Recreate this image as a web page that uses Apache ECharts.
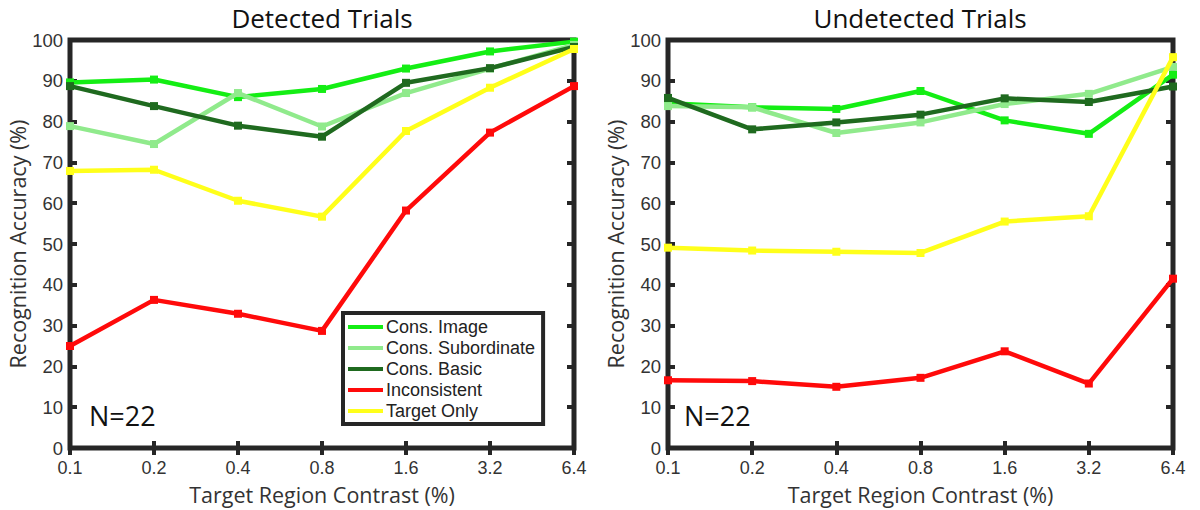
<!DOCTYPE html>
<html>
<head>
<meta charset="utf-8">
<title>Recognition Accuracy by Target Region Contrast</title>
<script src="https://cdn.jsdelivr.net/npm/echarts@6/dist/echarts.min.js"></script>
<style>
  html, body { margin: 0; padding: 0; background: #fff; }
  #chart { width: 1200px; height: 510px; }
</style>
</head>
<body>
<div id="chart"></div>
<script>
// Contrast levels (x axis categories)
const contrast = ['0.1', '0.2', '0.4', '0.8', '1.6', '3.2', '6.4'];
const yTicks = [0, 10, 20, 30, 40, 50, 60, 70, 80, 90, 100];

// Detected trials, recognition accuracy (%)
const detConsImage    = [89.6, 90.3, 86.0, 88.0, 93.0, 97.2, 99.6];
const detConsSub      = [78.9, 74.5, 87.0, 78.8, 87.0, 93.0, 98.8];
const detConsBasic    = [88.7, 83.8, 79.0, 76.3, 89.5, 93.1, 98.3];
const detInconsistent = [25.0, 36.3, 32.9, 28.7, 58.2, 77.3, 88.7];
const detTargetOnly   = [67.9, 68.2, 60.6, 56.7, 77.7, 88.3, 97.8];

// Undetected trials, recognition accuracy (%)
const undConsImage    = [84.5, 83.5, 83.1, 87.5, 80.3, 77.0, 91.5];
const undConsSub      = [83.8, 83.5, 77.2, 79.8, 84.3, 86.8, 93.4];
const undConsBasic    = [85.8, 78.1, 79.8, 81.7, 85.7, 84.8, 88.6];
const undInconsistent = [16.6, 16.4, 15.0, 17.2, 23.7, 15.8, 41.5];
const undTargetOnly   = [49.1, 48.4, 48.1, 47.8, 55.5, 56.8, 95.8];

const seriesNames = ['Cons. Image', 'Cons. Subordinate', 'Cons. Basic', 'Inconsistent', 'Target Only'];
const seriesColors = ['#14ee14', '#90ea8c', '#1f6a1f', '#ff0a0a', '#ffff1a'];
const panelTitles = ['Detected Trials', 'Undetected Trials'];
const sampleSize = 'N=22';

const FONT = '"Open Sans", "Noto Sans", sans-serif';
const COMPACT_FONT = '"Liberation Sans", Arial, sans-serif';
const FRAME = '#262626';
const TEXT = '#333';

const panels = [
  { left: 70, right: 626, data: [detConsImage, detConsSub, detConsBasic, detInconsistent, detTargetOnly] },
  { left: 668, right: 27, data: [undConsImage, undConsSub, undConsBasic, undInconsistent, undTargetOnly] }
];
const GRID_TOP = 40, GRID_BOTTOM = 57;

const grids = [], xAxes = [], yAxes = [], series = [];

panels.forEach((p, i) => {
  grids.push({
    left: p.left, right: p.right, top: GRID_TOP, bottom: GRID_BOTTOM,
    show: true, borderWidth: 5, borderColor: FRAME, backgroundColor: 'transparent'
  });
  // bottom x axis with labels
  xAxes.push({
    gridIndex: i, type: 'category', data: contrast, boundaryGap: false, position: 'bottom',
    axisLine: { show: false },
    axisTick: { show: true, inside: true, length: 7, lineStyle: { color: FRAME, width: 4 } },
    axisLabel: { color: TEXT, fontFamily: COMPACT_FONT, fontSize: 18, margin: 11 },
    name: 'Target Region Contrast (%)', nameLocation: 'middle', nameGap: 35,
    nameTextStyle: { color: TEXT, fontFamily: FONT, fontSize: 21.5 },
    splitLine: { show: false }
  });
  // top x axis: ticks only
  xAxes.push({
    gridIndex: i, type: 'category', data: contrast, boundaryGap: false, position: 'top',
    axisLine: { show: false },
    axisTick: { show: true, inside: true, length: 7, lineStyle: { color: FRAME, width: 4 } },
    axisLabel: { show: false }, splitLine: { show: false }
  });
  // left y axis with labels
  yAxes.push({
    gridIndex: i, type: 'value', min: yTicks[0], max: yTicks[yTicks.length - 1], interval: 10,
    position: 'left',
    axisLine: { show: false },
    axisTick: { show: true, inside: true, length: 7, lineStyle: { color: FRAME, width: 4 } },
    axisLabel: { color: TEXT, fontFamily: COMPACT_FONT, fontSize: 18.5, margin: 7 },
    name: 'Recognition Accuracy (%)', nameLocation: 'middle', nameGap: 40, nameRotate: 90,
    nameTextStyle: { color: TEXT, fontFamily: FONT, fontSize: 21.5 },
    splitLine: { show: false }
  });
  // right y axis: ticks only
  yAxes.push({
    gridIndex: i, type: 'value', min: yTicks[0], max: yTicks[yTicks.length - 1], interval: 10,
    position: 'right',
    axisLine: { show: false },
    axisTick: { show: true, inside: true, length: 7, lineStyle: { color: FRAME, width: 4 } },
    axisLabel: { show: false }, splitLine: { show: false }
  });

  p.data.forEach((vals, k) => {
    series.push({
      name: seriesNames[k], type: 'line',
      xAxisIndex: i * 2, yAxisIndex: i * 2,
      data: vals,
      symbol: 'rect', symbolSize: 8, showSymbol: true,
      clip: false,
      lineStyle: { color: seriesColors[k], width: 4.5 },
      itemStyle: { color: seriesColors[k] },
      emphasis: { disabled: true },
      z: 3 + k
    });
  });
});

const option = {
  animation: false,
  backgroundColor: '#fff',
  textStyle: { fontFamily: FONT },
  grid: grids,
  xAxis: xAxes,
  yAxis: yAxes,
  legend: {
    data: seriesNames,
    orient: 'vertical',
    left: 343, top: 313,
    icon: 'rect', itemWidth: 35, itemHeight: 4, itemGap: 3,
    padding: [5, 8, 4, 5],
    backgroundColor: '#fff',
    borderColor: FRAME, borderWidth: 4, borderRadius: 0,
    textStyle: { color: '#222', fontFamily: COMPACT_FONT, fontSize: 18, lineHeight: 18, padding: [0, 0, 0, -2] },
    selectedMode: false,
    z: 10
  },
  graphic: [
    { type: 'text', x: 322, y: 5, style: { text: panelTitles[0], font: '26px ' + FONT, fill: '#111', textAlign: 'center', textVerticalAlign: 'top' } },
    { type: 'text', x: 920, y: 5, style: { text: panelTitles[1], font: '26px ' + FONT, fill: '#111', textAlign: 'center', textVerticalAlign: 'top' } },
    { type: 'text', x: 89, y: 402, style: { text: sampleSize, font: '27px ' + FONT, fill: '#111', textVerticalAlign: 'top' } },
    { type: 'text', x: 684, y: 402, style: { text: sampleSize, font: '27px ' + FONT, fill: '#111', textVerticalAlign: 'top' } }
  ],
  series: series
};

const chart = echarts.init(document.getElementById('chart'), null, { renderer: 'svg' });
chart.setOption(option);
</script>
</body>
</html>
